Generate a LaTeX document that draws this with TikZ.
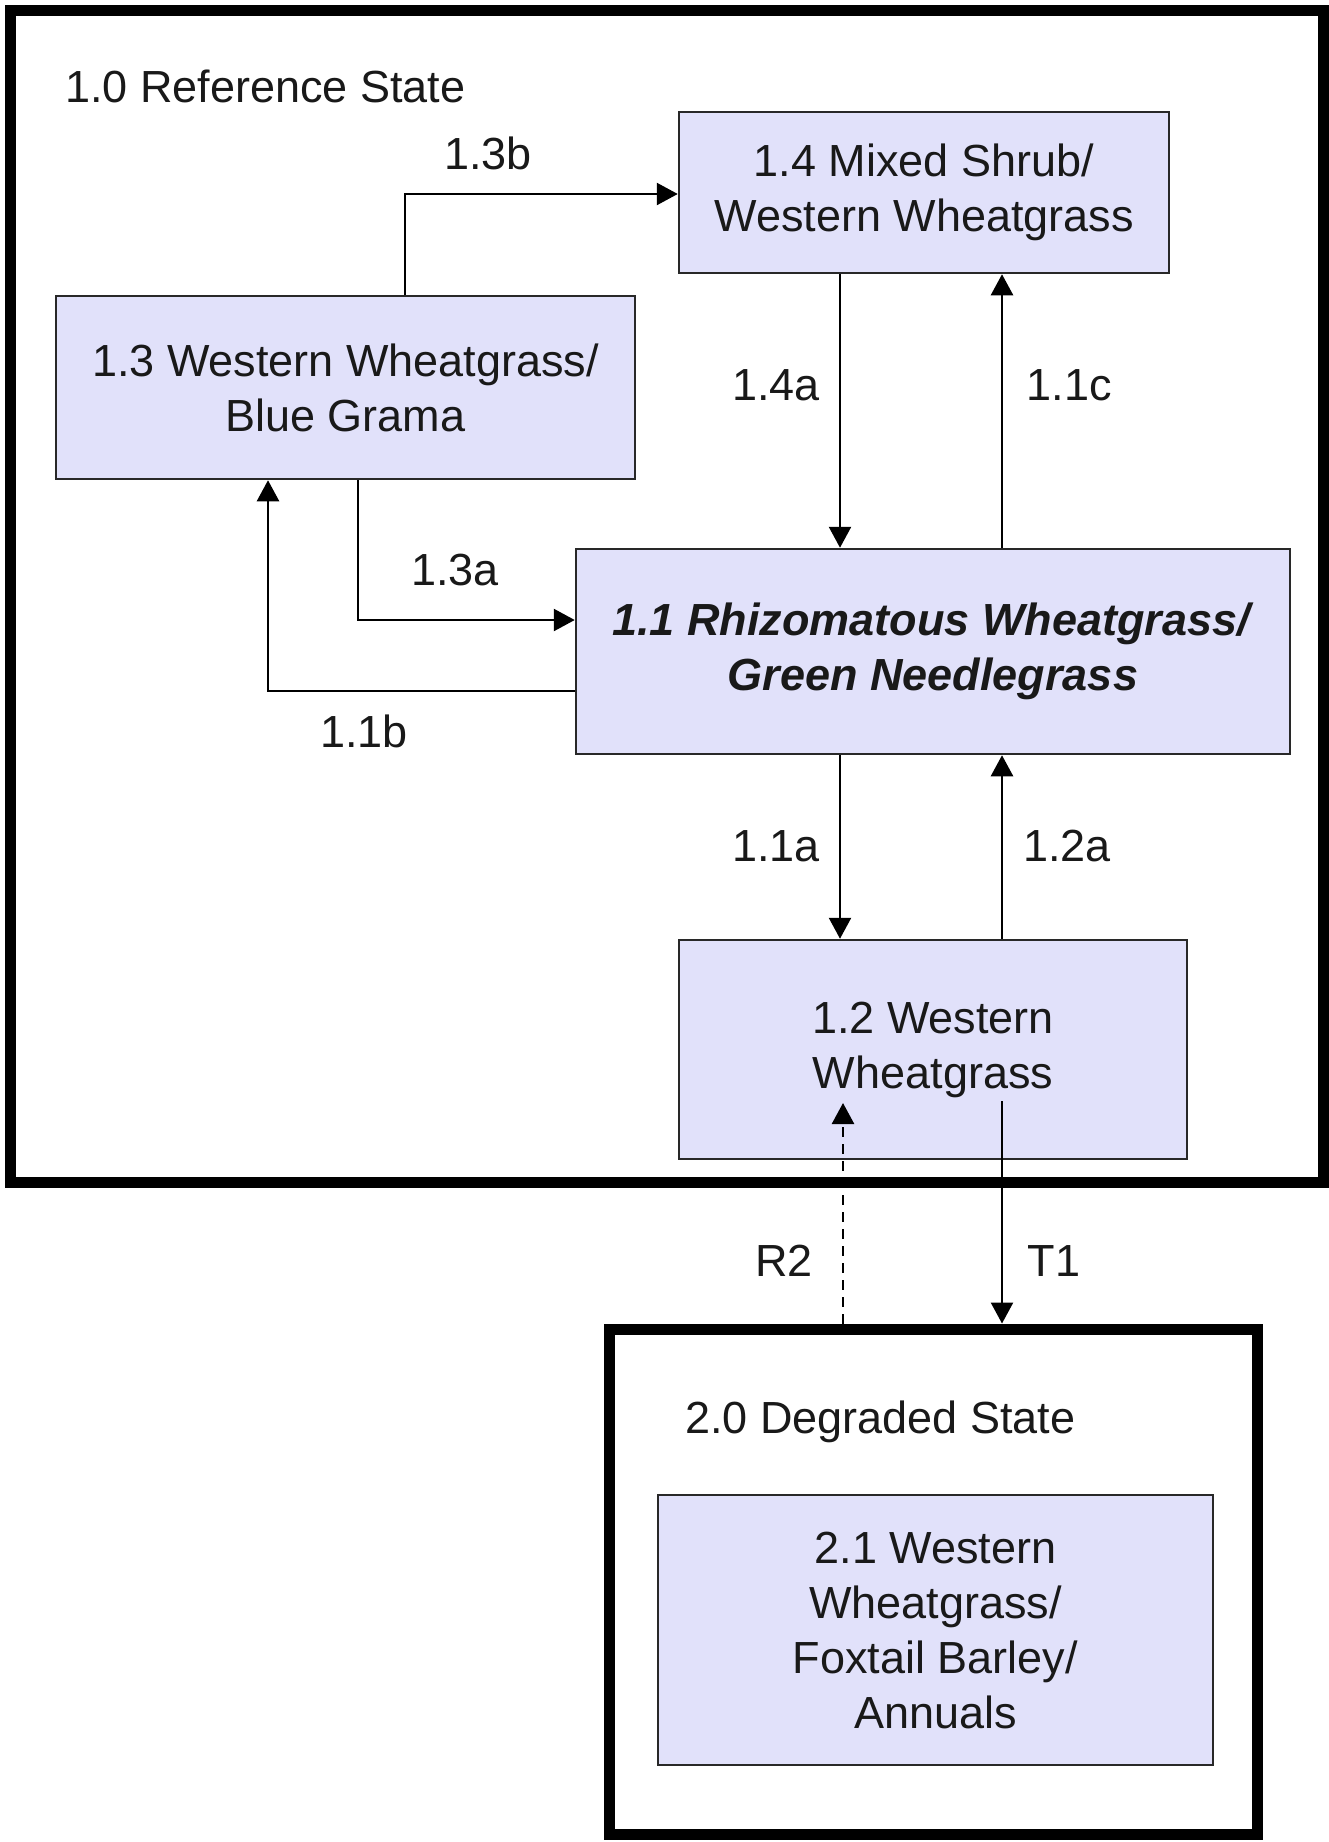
\documentclass[tikz,border=0pt]{standalone}
\usepackage{fontspec}
\setmainfont{Liberation Sans}
\usetikzlibrary{arrows.meta,calc}
\definecolor{boxfill}{RGB}{225,225,250}
\definecolor{boxline}{RGB}{40,40,40}
\definecolor{txt}{RGB}{25,25,25}
\begin{document}
\begin{tikzpicture}[x=1pt,y=-1pt,
  every node/.style={font=\fontsize{45}{55}\selectfont, text=txt},
  stbox/.style={draw=boxline, fill=boxfill, line width=2.5pt, inner sep=0pt, align=center},
  statebox/.style={draw=black, line width=11pt, inner sep=0pt},
  conn/.style={line width=2.5pt, draw=black, -{Triangle[length=21pt,width=22pt]}},
  lbl/.style={inner sep=0pt}]
\useasboundingbox[fill=white] (0,0) rectangle (1329,1842);

% state boxes
\node[statebox, minimum width=1313pt, minimum height=1172pt] (s1) at (666.5,596) {};
\node[statebox, minimum width=648pt, minimum height=505pt] (s2) at (933,1581.5) {};

\node[lbl, anchor=west] (t10) at (65,86) {1.0 Reference State};
\node[lbl, anchor=west] (t20) at (685,1422) {2.0 Degraded State};

% community boxes
\node[stbox, minimum width=490pt, minimum height=161pt] (b14) at (924,192.5) {1.4 Mixed Shrub/\\Western Wheatgrass};
\node[stbox, minimum width=579pt, minimum height=183pt] (b13) at (345.5,387.5) {1.3 Western Wheatgrass/\\Blue Grama};
\node[stbox, minimum width=714pt, minimum height=205pt] (b11) at (933,651.5) {\textbf{\textit{1.1 Rhizomatous Wheatgrass/}}\\\textbf{\textit{Green Needlegrass}}};
\node[stbox, minimum width=508pt, minimum height=219pt] (b12) at (933,1049.5) {1.2 Western\\Wheatgrass};
\node[stbox, minimum width=555pt, minimum height=270pt] (b21) at (935.5,1630) {2.1 Western\\Wheatgrass/\\Foxtail Barley/\\Annuals};

% helper coordinates
\coordinate (c13b) at (405,194);
\coordinate (cL) at (840,0);
\coordinate (cR) at (1002,0);
\coordinate (c13a) at (358,620);
\coordinate (c11b) at (268,691);
\coordinate (cT1) at (1002,1101);
\coordinate (cR2) at (843,1103);

% connectors
\draw[conn] (b13.north -| c13b) |- (b14.west |- c13b);
\draw[conn] (b14.south -| cL) -- (b11.north -| cL);
\draw[conn] (b11.north -| cR) -- (b14.south -| cR);
\draw[conn] (b13.south -| c13a) |- (b11.west |- c13a);
\draw[conn] (b11.west |- c11b) -| (b13.south -| c11b);
\draw[conn] (b11.south -| cL) -- (b12.north -| cL);
\draw[conn] (b12.north -| cR) -- (b11.south -| cR);
\draw[conn] (cT1) -- (s2.north -| cT1);
\draw[conn, dash pattern=on 10pt off 7pt] (s2.north -| cR2) -- (cR2);

% labels
\node[lbl] (l13b) at (488,153) {1.3b};
\node[lbl] (l14a) at (776,385) {1.4a};
\node[lbl] (l11c) at (1069,385) {1.1c};
\node[lbl] (l13a) at (455,570) {1.3a};
\node[lbl] (l11b) at (364,731) {1.1b};
\node[lbl] (l11a) at (776,846) {1.1a};
\node[lbl] (l12a) at (1067,846) {1.2a};
\node[lbl] (lR2) at (784,1261) {R2};
\node[lbl] (lT1) at (1054,1261) {T1};
\end{tikzpicture}
\end{document}
